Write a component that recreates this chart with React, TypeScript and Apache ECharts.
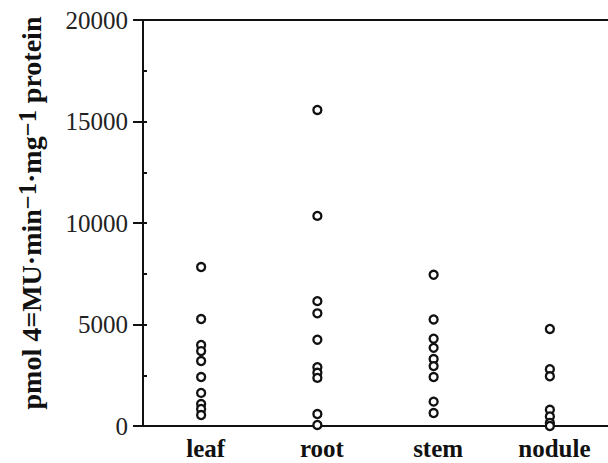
import React, { useEffect, useRef } from "react";
import * as echarts from "echarts";

const categories = ["leaf", "root", "stem", "nodule"];
const leafValues = [7830, 5270, 3990, 3690, 3200, 2410, 1630, 1080, 840, 540];
const rootValues = [15570, 10350, 6150, 5550, 4250, 2900, 2620, 2370, 590, 50];
const stemValues = [7450, 5250, 4300, 3850, 3300, 2950, 2410, 1200, 640];
const noduleValues = [4780, 2800, 2450, 800, 470, 150, 0];
const yTicks = [0, 5000, 10000, 15000, 20000];

const seriesValues = [leafValues, rootValues, stemValues, noduleValues];

export default function App() {
  const ref = useRef<HTMLDivElement>(null);
  useEffect(() => {
    if (!ref.current) return;
    const chart = echarts.init(ref.current, undefined, { renderer: "svg" });
    const data: [number, number][] = [];
    seriesValues.forEach((vals, ci) => vals.forEach((v) => data.push([ci, v])));
    const serif = "'Liberation Serif', 'DejaVu Serif', serif";
    chart.setOption({
      animation: false,
      backgroundColor: "#ffffff",
      grid: { left: 143, top: 20, bottom: 37, right: -7, containLabel: false },
      xAxis: [
        {
          type: "category",
          data: categories,
          boundaryGap: true,
          position: "bottom",
          axisLine: { show: true, onZero: false, lineStyle: { color: "#111", width: 2 } },
          axisTick: { show: false },
          axisLabel: {
            color: "#111",
            fontFamily: serif,
            fontWeight: "bold",
            fontSize: 25,
            margin: 10,
            padding: [0, 0, 0, 9],
          },
        },
        {
          type: "category",
          data: categories,
          position: "top",
          axisLine: { show: true, onZero: false, lineStyle: { color: "#111", width: 2 } },
          axisTick: { show: false },
          axisLabel: { show: false },
        },
      ],
      yAxis: [
        {
          type: "value",
          min: yTicks[0],
          max: yTicks[yTicks.length - 1],
          interval: 5000,
          position: "left",
          splitLine: { show: false },
          axisLine: { show: true, onZero: false, lineStyle: { color: "#111", width: 2 } },
          axisTick: { show: true, length: 10, lineStyle: { color: "#111", width: 2 } },
          axisLabel: {
            color: "#222",
            fontFamily: serif,
            fontSize: 25,
            margin: 15,
            formatter: (v: number) => String(v),
          },
        },
        {
          type: "value",
          min: yTicks[0],
          max: yTicks[yTicks.length - 1],
          interval: 2500,
          position: "left",
          splitLine: { show: false },
          axisLine: { show: false },
          axisTick: { show: true, inside: true, length: 4, lineStyle: { color: "#111", width: 2 } },
          axisLabel: { show: false },
        },
      ],
      graphic: [
        {
          type: "text",
          x: 31,
          y: 213,
          rotation: Math.PI / 2,
          style: {
            text: "{a|pmol 4=MU·min}{s|−1}{a|·mg}{s|−1}{a| protein}",
            align: "center",
            verticalAlign: "middle",
            fill: "#111",
            rich: {
              a: { fontFamily: serif, fontWeight: "bold", fontSize: 28, lineHeight: 32, fill: "#111" },
              s: { fontFamily: serif, fontWeight: "bold", fontSize: 24.5, lineHeight: 22, verticalAlign: "top", fill: "#111" },
            },
          },
        },
      ],
      series: [
        {
          type: "scatter",
          xAxisIndex: 0,
          yAxisIndex: 0,
          data,
          symbol: "circle",
          symbolSize: 8,
          itemStyle: { color: "#ffffff", borderColor: "#111", borderWidth: 2.3, opacity: 1 },
        },
      ],
    });
    return () => chart.dispose();
  }, []);
  return <div ref={ref} style={{ width: 608, height: 463, position: "absolute", left: 0, top: 0 }} />;
}
